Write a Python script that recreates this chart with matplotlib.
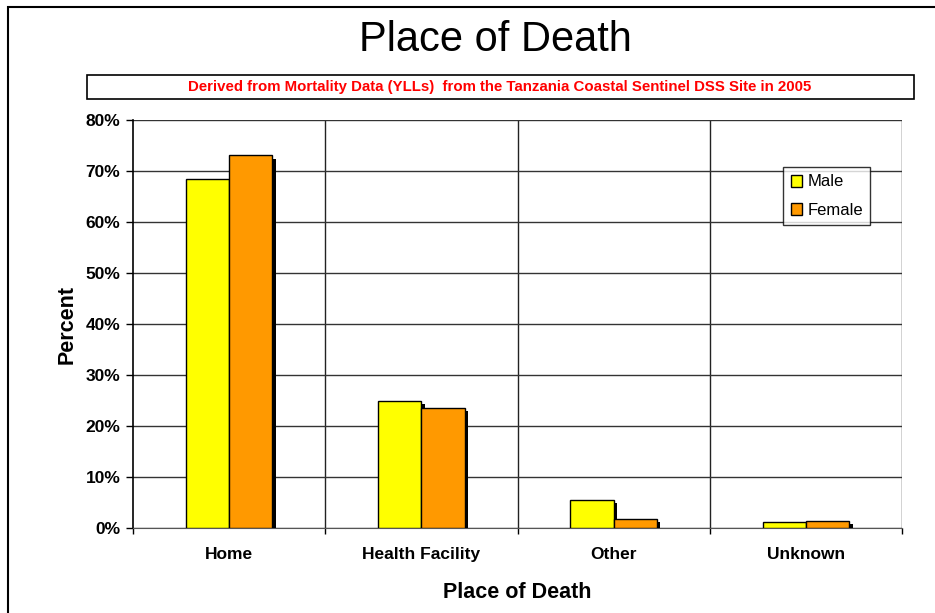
import numpy as np
import matplotlib
matplotlib.use('Agg')
import matplotlib.pyplot as plt
import matplotlib.patheffects as pe
from matplotlib.patches import Rectangle
from matplotlib.ticker import PercentFormatter

categories = ['Home', 'Health Facility', 'Other', 'Unknown']
male = [68.4, 25.0, 5.5, 1.2]
female = [73.1, 23.6, 1.8, 1.4]
y_ticks = [0, 10, 20, 30, 40, 50, 60, 70, 80]

plt.rcParams['font.family'] = ['Liberation Sans', 'DejaVu Sans']

W, H = 935, 613
fig = plt.figure(figsize=(W / 100, H / 100), dpi=100)
fig.patch.set_facecolor('white')

# outer chart frame (cut off on the right and bottom like the original)
fig.add_artist(Rectangle((8 / W, -0.1), 1.2, 1 - 7 / H + 0.1, transform=fig.transFigure,
                         fill=False, edgecolor='black', linewidth=1.5))

ax = fig.add_axes([133 / W, 1 - 528 / H, (902 - 133) / W, (528 - 120) / H])

x = np.arange(len(categories))
width = 0.225
shadow = [pe.SimplePatchShadow(offset=(2.5, -2.5), shadow_rgbFace='black', alpha=1), pe.Normal()]
bm = ax.bar(x - width / 2, male, width, color='#ffff00', edgecolor='black', linewidth=1,
            label='Male', zorder=3)
bf = ax.bar(x + width / 2, female, width, color='#ff9900', edgecolor='black', linewidth=1,
            label='Female', zorder=3)
for b in list(bm) + list(bf):
    b.set_path_effects(shadow)

ax.set_xlim(-0.5, len(categories) - 0.5)
ax.set_ylim(0, 80)
ax.set_yticks(y_ticks)
ax.yaxis.set_major_formatter(PercentFormatter(decimals=0))
ax.set_xticks(x)
ax.set_xticklabels(categories)
ax.set_xticks(np.arange(len(categories) + 1) - 0.5, minor=True)
ax.tick_params(axis='x', which='major', length=0, pad=14)
ax.tick_params(axis='x', which='minor', length=4, direction='out', width=1)
ax.tick_params(axis='y', length=5, direction='out', width=1, pad=4)
for lbl in ax.get_xticklabels() + ax.get_yticklabels():
    lbl.set_fontweight('bold')
    lbl.set_fontsize(12.5)

ax.grid(axis='y', color='#333333', linewidth=1, zorder=0)
for xv in x[:-1] + 0.5:
    ax.axvline(xv, color='#222222', linewidth=1, zorder=0)
for s in ['top', 'right']:
    ax.spines[s].set_visible(False)
ax.spines['left'].set_linewidth(1.2)
ax.spines['bottom'].set_color('#555555')
ax.axvline(len(categories) - 0.5, color='#222222', linewidth=1, zorder=0)

ax.set_ylabel('Percent', fontsize=15.5, fontweight='bold', labelpad=6)
ax.set_xlabel('Place of Death', fontsize=15.5, fontweight='bold', labelpad=14)

fig.text(495 / W, 1 - 40 / H, 'Place of Death', fontsize=30, ha='center', va='center')

# subtitle box
fig.add_artist(Rectangle((87 / W, 1 - 99 / H), (914 - 87) / W, 24 / H, transform=fig.transFigure,
                         fill=False, edgecolor='black', linewidth=1.2))
fig.text(500 / W, 1 - 87 / H,
         'Derived from Mortality Data (YLLs)  from the Tanzania Coastal Sentinel DSS Site in 2005',
         color='red', fontsize=10.8, fontweight='bold', ha='center', va='center')

leg = ax.legend(loc='upper left', bbox_to_anchor=((783 - 133) / (902 - 133), (528 - 167) / (528 - 120)),
                frameon=True, fancybox=False, edgecolor='black', fontsize=12,
                handlelength=0.7, handleheight=0.7, handletextpad=0.3, borderpad=0.45,
                labelspacing=0.8, borderaxespad=0)
leg.get_frame().set_linewidth(1)
for h in leg.legend_handles:
    h.set_path_effects([])

fig.savefig('out.png', dpi=100, facecolor='white')
